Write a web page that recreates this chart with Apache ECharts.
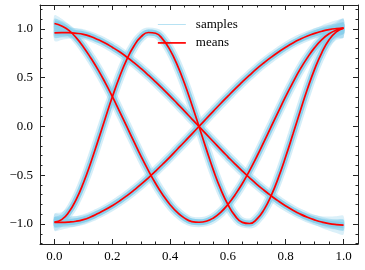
<!DOCTYPE html>
<html><head><meta charset="utf-8">
<script src="https://cdn.jsdelivr.net/npm/echarts@6/dist/echarts.min.js"></script>
<style>html,body{margin:0;padding:0;background:#fff}#c{width:365px;height:270px}</style>
</head><body><div id="c"></div>
<script>
// ---- data ----
const xs = [0,0.025,0.05,0.075,0.1,0.125,0.15,0.175,0.2,0.225,0.25,0.275,0.3,0.325,0.35,0.375,0.4,0.425,0.45,0.475,0.5,
  0.525,0.55,0.575,0.6,0.625,0.65,0.675,0.7,0.725,0.75,0.775,0.8,0.825,0.85,0.875,0.9,0.925,0.95,0.975,1.0];
const meanA = [0.960,0.962,0.961,0.955,0.944,0.922,0.891,0.855,0.812,0.765,0.712,0.654,0.592,0.526,0.457,0.385,0.311,0.234,0.157,0.078,0.000,
  -0.079,-0.157,-0.235,-0.311,-0.386,-0.458,-0.527,-0.593,-0.654,-0.712,-0.766,-0.815,-0.859,-0.898,-0.931,-0.958,-0.980,-0.996,-1.006,-1.012];
const meanB = [1.055,1.030,0.985,0.910,0.815,0.705,0.585,0.452,0.308,0.155,0.000,-0.156,-0.309,-0.452,-0.585,-0.702,-0.802,-0.882,-0.940,-0.975,-0.982,
  -0.972,-0.938,-0.880,-0.800,-0.700,-0.585,-0.452,-0.308,-0.155,0.000,0.155,0.308,0.452,0.587,0.705,0.808,0.890,0.950,0.988,1.008];
const meanC = [-0.983,-0.983,-0.980,-0.972,-0.955,-0.928,-0.893,-0.855,-0.812,-0.764,-0.711,-0.653,-0.592,-0.526,-0.457,-0.385,-0.311,-0.234,-0.157,-0.078,0.000,
  0.079,0.157,0.235,0.311,0.386,0.457,0.526,0.592,0.653,0.710,0.763,0.812,0.856,0.894,0.927,0.954,0.976,0.993,1.003,1.008];
const meanD = [-0.980,-0.955,-0.878,-0.750,-0.580,-0.377,-0.153,0.077,0.301,0.507,0.685,0.825,0.920,0.963,0.955,0.893,0.782,0.628,0.440,0.226,0.000,
  -0.230,-0.450,-0.643,-0.800,-0.917,-0.983,-0.995,-0.950,-0.853,-0.707,-0.522,-0.309,-0.078,0.156,0.383,0.588,0.758,0.888,0.970,1.008];
// half-width of the sample cloud (vertical, data units)
const sampleSpread = [0.085,0.075,0.062,0.052,0.045,0.040,0.036,0.034,0.032,0.031,0.030,0.030,0.030,0.030,0.030,0.030,0.030,0.030,0.030,0.030,0.030,
  0.030,0.030,0.030,0.030,0.030,0.030,0.030,0.030,0.030,0.030,0.031,0.032,0.034,0.036,0.042,0.050,0.060,0.072,0.085,0.095];
const seriesNames = ['samples','means'];
const xMajor = [0,0.2,0.4,0.6,0.8,1.0];
const xMinor = [0,0.05,0.1,0.15,0.2,0.25,0.3,0.35,0.4,0.45,0.5,0.55,0.6,0.65,0.7,0.75,0.8,0.85,0.9,0.95,1.0];
const yMajor = [-1.0,-0.5,0,0.5,1.0];
const yMinor = [-1.2,-1.1,-1.0,-0.9,-0.8,-0.7,-0.6,-0.5,-0.4,-0.3,-0.2,-0.1,0,0.1,0.2,0.3,0.4,0.5,0.6,0.7,0.8,0.9,1.0,1.1,1.2];
const xRange = [-0.05, 1.05];
const yRange = [-1.205, 1.245];

// ---- styling ----
const FONT = "'Liberation Serif','DejaVu Serif','Times New Roman',serif";
const AX = '#222';
const SKY = '135,206,235';
const fmt = v => (v < 0 ? '\u2212' + Math.abs(v).toFixed(1) : v.toFixed(1));

function axis(kind, grid, pos, range, ticks, len, line, labels) {
  return {
    type: 'value', gridIndex: grid, position: pos, min: range[0], max: range[1],
    axisLine: {show: line, onZero: false, lineStyle: {color: AX, width: 1}},
    splitLine: {show: false},
    axisTick: {show: true, inside: true, length: len, customValues: ticks, lineStyle: {color: AX, width: 1}},
    axisLabel: labels ? {show: true, customValues: ticks, formatter: fmt, margin: kind === 'x' ? 6 : 7,
      fontFamily: FONT, fontSize: 13, color: '#000'} : {show: false},
    minorTick: {show: false}
  };
}

const means = [meanA, meanB, meanC, meanD];
const series = [];
means.forEach((m, idx) => {
  [[1.0, 'rgba(' + SKY + ',0.3)'], [0.6, 'rgba(' + SKY + ',0.5)']].forEach(([k, col], j) => {
    series.push({
      type: 'custom', name: 'band' + idx + '_' + j, xAxisIndex: 0, yAxisIndex: 0, silent: true, z: 1,
      data: [[xs[0], m[0]]],
      renderItem: function (params, api) {
        const pts = [];
        for (let i = 0; i < xs.length; i++) pts.push(api.coord([xs[i], m[i] + k * sampleSpread[i]]));
        for (let i = xs.length - 1; i >= 0; i--) pts.push(api.coord([xs[i], m[i] - k * sampleSpread[i]]));
        return {type: 'polygon', shape: {points: pts, smooth: 0.3}, style: {fill: col}};
      }
    });
  });
  series.push({
    type: 'line', name: 'halo' + idx, xAxisIndex: 0, yAxisIndex: 0, smooth: true, symbol: 'none', silent: true, z: 2,
    data: xs.map((x, i) => [x, m[i]]),
    lineStyle: {color: 'rgba(' + SKY + ',0.35)', width: 10}
  });
  series.push({
    type: 'line', name: seriesNames[0], xAxisIndex: 0, yAxisIndex: 0, smooth: true, symbol: 'none', silent: true, z: 3,
    data: xs.map((x, i) => [x, m[i]]),
    lineStyle: {color: 'rgba(' + SKY + ',0.92)', width: 6}
  });
});
means.forEach((m) => {
  series.push({
    type: 'line', name: seriesNames[1], xAxisIndex: 0, yAxisIndex: 0, smooth: true, symbol: 'none', silent: true, z: 5,
    data: xs.map((x, i) => [x, m[i]]),
    lineStyle: {color: '#ff0000', width: 1.7}
  });
});

const chart = echarts.init(document.getElementById('c'), null, {renderer: 'canvas'});
chart.setOption({
  animation: false,
  backgroundColor: '#fff',
  grid: [
    {left: 40, right: 7, top: 5, bottom: 26, show: false},
    {left: 40, right: 7, top: 5, bottom: 26, show: false}
  ],
  xAxis: [
    axis('x', 0, 'bottom', xRange, xMajor, 5, true, true),
    axis('x', 0, 'top', xRange, xMajor, 5, true, false),
    axis('x', 1, 'bottom', xRange, xMinor, 2.5, false, false),
    axis('x', 1, 'top', xRange, xMinor, 2.5, false, false)
  ],
  yAxis: [
    axis('y', 0, 'left', yRange, yMajor, 5, true, true),
    axis('y', 0, 'right', yRange, yMajor, 5, true, false),
    axis('y', 1, 'left', yRange, yMinor, 2.5, false, false),
    axis('y', 1, 'right', yRange, yMinor, 2.5, false, false)
  ],
  legend: {
    orient: 'vertical', left: 152, top: 13, itemWidth: 28, itemHeight: 14, itemGap: 5.4,
    textStyle: {fontFamily: FONT, fontSize: 13, color: '#000', padding: [0, 0, 0, 5]},
    data: [
      {name: seriesNames[0], lineStyle: {color: 'rgba(' + SKY + ',0.6)', width: 1}, itemStyle: {opacity: 0}},
      {name: seriesNames[1], lineStyle: {color: '#ff0000', width: 1.7}, itemStyle: {opacity: 0}}
    ]
  },
  series: series
});
</script></body></html>
